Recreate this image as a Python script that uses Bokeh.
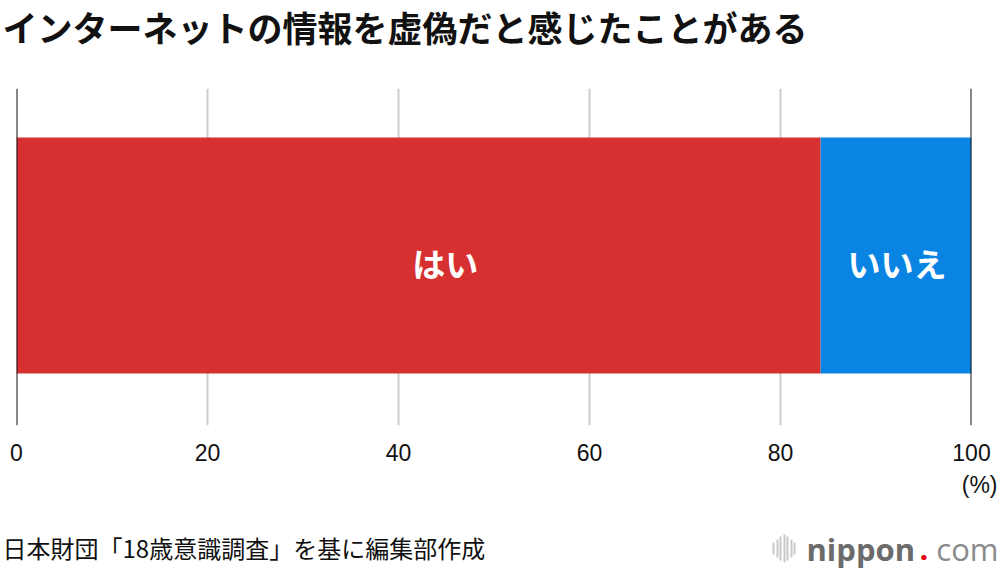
from bokeh.plotting import figure
from bokeh.models import Range1d, FixedTicker, ColumnDataSource, Span
from bokeh.embed import file_html
from bokeh.resources import INLINE
from bokeh.core.properties import value

# ---- data ----
title_text = "インターネットの情報を虚偽だと感じたことがある"
source_text = "日本財団「18歳意識調査」を基に編集部作成"
categories = ["はい", "いいえ"]
values = [84.2, 15.8]
colors = ["#d63031", "#0984e3"]
label_pos = [44.9, 92.2]
tick_values = [0, 20, 40, 60, 80, 100]
unit_label = "(%)"

# ---- layout helpers (reference page pixels -> data units) ----
W, H = 1000, 570
FL, FR, FT, FB = 16, 29, 88, 145           # frame borders on the canvas
PX_PER_X = (W - FL - FR) / 100.0
FRAME_H = H - FT - FB


def sx(px):
    return (px - FL) / PX_PER_X


def sy(py):
    return (H - FB - py) / FRAME_H


p = figure(width=W, height=H, output_backend="svg", toolbar_location=None,
           x_range=Range1d(0, 100), y_range=Range1d(0, 1),
           y_axis_location=None, min_border_left=FL, min_border_right=FR,
           min_border_top=FT, min_border_bottom=FB)
p.outline_line_color = None
p.background_fill_color = "white"
p.border_fill_color = "white"

# grid
p.ygrid.visible = False
p.xgrid.ticker = FixedTicker(ticks=[t for t in tick_values if t not in (0, 100)])
p.xgrid.grid_line_color = "#cccccc"
p.xgrid.grid_line_width = 2
for edge in (tick_values[0], tick_values[-1]):
    p.add_layout(Span(location=edge, dimension="height", line_color="#111111",
                      line_width=2))

# axis
ax = p.xaxis[0]
ax.ticker = FixedTicker(ticks=tick_values)
ax.axis_line_color = None
ax.major_tick_line_color = None
ax.minor_tick_line_color = None
ax.major_label_standoff = 12
ax.major_label_text_font = "Liberation Sans"
ax.major_label_text_font_size = "23px"
ax.major_label_text_color = "#111111"

# bars
lefts = [sum(values[:i]) for i in range(len(values))]
rights = [l + v for l, v in zip(lefts, values)]
src = ColumnDataSource(dict(cat=categories, left=lefts, right=rights, color=colors,
                            y=[0.5045] * len(values), ly=[sy(262)] * len(values),
                            lx=label_pos))
p.hbar(y="y", left="left", right="right", height=0.7, color="color", source=src,
       line_color=None)
p.text(x="lx", y="ly", text="cat", source=src, text_color="white",
       text_align="center", text_baseline="middle",
       text_font=value("Noto Sans CJK JP"), text_font_size="33px",
       text_font_style="bold")


def put(text, px, py, size, font, color="#111111", style="normal",
        align="left", baseline="middle"):
    p.text(x=[sx(px)], y=[sy(py)], text=[text], text_font=value(font),
           text_font_size=size, text_font_style=style, text_color=color,
           text_align=align, text_baseline=baseline, level="overlay")


# title, source, unit
put(title_text, 2, 26, "35px", "Noto Sans CJK JP", style="bold")
put(source_text, 2, 547, "24px", "Noto Sans CJK JP")
put(unit_label, 997, 484, "23px", "Liberation Sans", align="right")

# nippon.com logo
put("nippon", 806, 548, "31px", "Open Sans", color="#6b6b6b", style="bold")
put(".", 919, 548, "31px", "Open Sans", color="#e60012", style="bold")
put("com", 998, 548, "31px", "Open Sans", color="#8a8a8a", align="right")
icon_x = [773, 777, 780, 784, 787, 791, 794]
icon_h = [6, 9, 12, 14, 12, 9, 6]
p.segment(x0=[sx(x) for x in icon_x], x1=[sx(x) for x in icon_x],
          y0=[sy(548 - h) for h in icon_h], y1=[sy(548 + h) for h in icon_h],
          line_color="#c8c8c8", line_width=2, level="overlay")

open("out.html", "w").write(file_html(p, INLINE))
